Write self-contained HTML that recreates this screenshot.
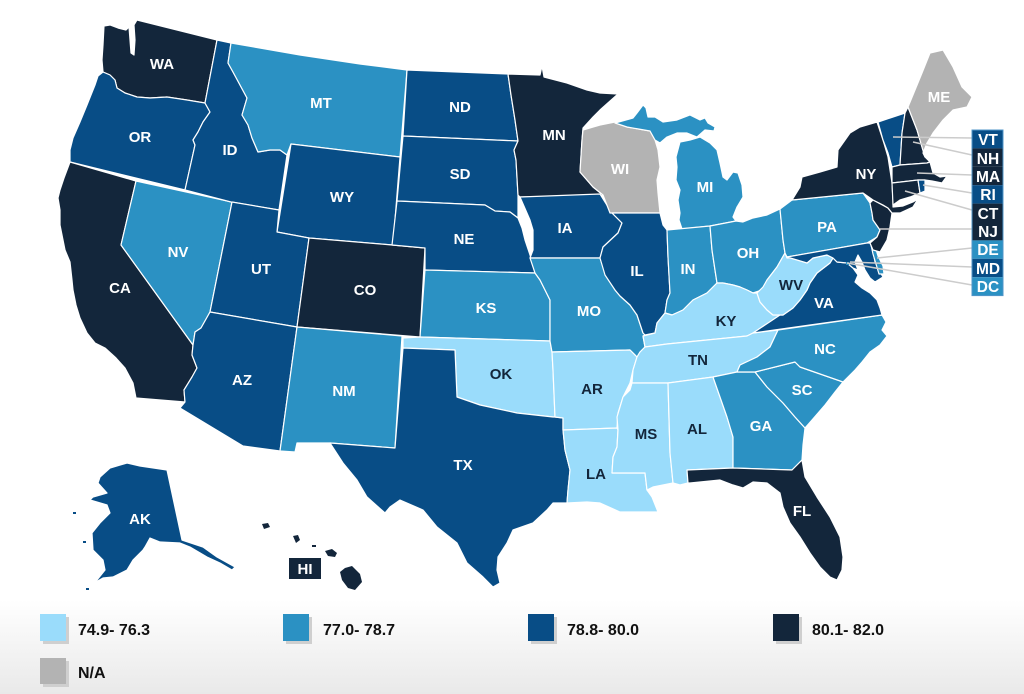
<!DOCTYPE html>
<html><head><meta charset="utf-8">
<style>
html,body{margin:0;padding:0;}
body{width:1024px;height:694px;overflow:hidden;background:linear-gradient(to bottom,#ffffff 0px,#ffffff 600px,#e9e9e9 694px);font-family:"Liberation Sans",Arial,sans-serif;}
svg{position:absolute;left:0;top:0;}
.s{stroke:#fff;stroke-width:1.2;stroke-linejoin:round;}
.L{fill:#9adcfb}.M{fill:#2b91c3}.D{fill:#084d86}.N{fill:#13263b}.G{fill:#b3b3b3}
.t{font-family:"Liberation Sans",Arial,sans-serif;font-weight:bold;font-size:15px;fill:#fff;text-anchor:middle;}
.tn{fill:#13263b;}
.lg{font-family:"Liberation Sans",Arial,sans-serif;font-weight:bold;font-size:16px;fill:#111;}
.cl{stroke:#cccccc;stroke-width:1.5;fill:none;}
.bt{font-family:"Liberation Sans",Arial,sans-serif;font-weight:bold;font-size:15.5px;fill:#fff;text-anchor:middle;}
</style></head>
<body>
<svg width="1024" height="694" viewBox="0 0 1024 694" xmlns="http://www.w3.org/2000/svg">
<g class="s">
<!-- WA -->
<path class="N" d="M104,26 L110,25 L118,28 L126,30 L129,27 L130,40 L131,53 L134,55 L135,40 L134,25 L137,20 L217,40 L205,103 L187,100 L167,97 L150,98 L137,97 L125,93 L117,88 L115,80 L110,75 L103,72 L102,60 L103,45 Z"/>
<!-- OR -->
<path class="D" d="M103,72 L110,75 L115,80 L117,88 L125,93 L137,97 L150,98 L167,97 L187,100 L205,103 L210,112 L203,122 L198,132 L193,140 L195,145 L185,190 L70,162 L70,150 L73,138 L80,122 L87,105 L95,85 L98,76 Z"/>
<!-- CA -->
<path class="N" d="M70,162 L136,181 L121,245 L193,345 L192,355 L197,368 L192,377 L184,390 L185,402 L136,398 L133,383 L125,368 L116,358 L105,348 L95,343 L87,333 L80,318 L76,305 L73,290 L72,280 L70,262 L65,250 L62,235 L60,225 L60,210 L58,198 L60,190 L64,178 Z"/>
<!-- NV -->
<path class="M" d="M136,181 L232,202 L210,312 L201,328 L195,332 L193,345 L121,245 Z"/>
<!-- ID -->
<path class="D" d="M217,40 L231,43 L228,63 L233,72 L240,85 L247,98 L242,115 L248,125 L252,138 L258,152 L270,150 L280,150 L287,155 L279,210 L231,202 L185,190 L195,145 L193,140 L198,132 L203,122 L210,112 L205,103 Z"/>
<!-- MT -->
<path class="M" d="M231,43 L300,55 L360,64 L407,70 L400,157 L291,144 L287,155 L280,150 L270,150 L258,152 L252,138 L248,125 L242,115 L247,98 L240,85 L233,72 L228,63 Z"/>
<!-- WY -->
<path class="D" d="M291,144 L400,157 L393,245 L309,238 L277,232 Z"/>
<!-- UT -->
<path class="D" d="M232,202 L279,210 L277,232 L309,238 L297,327 L210,312 Z"/>
<!-- CO -->
<path class="N" d="M309,238 L392,245 L425,248 L420,337 L297,327 Z"/>
<!-- AZ -->
<path class="D" d="M210,312 L297,327 L280,451 L243,446 L180,408 L185,402 L184,390 L192,377 L197,368 L192,355 L193,345 L195,332 L201,328 Z"/>
<!-- NM -->
<path class="M" d="M297,327 L402,336 L395,448 L330,443 L297,443 L295,452 L280,451 Z"/>
<!-- ND -->
<path class="D" d="M407,70 L508,74 L511,95 L515,120 L518,141 L403,136 Z"/>
<!-- SD -->
<path class="D" d="M403,136 L518,141 L514,150 L516,160 L518,195 L518,218 L510,212 L495,211 L485,205 L397,201 Z"/>
<!-- NE -->
<path class="D" d="M397,201 L485,205 L495,211 L510,212 L518,218 L522,228 L525,240 L530,255 L533,265 L535,273 L425,270 L425,248 L392,245 Z"/>
<!-- KS -->
<path class="M" d="M425,270 L535,273 L540,280 L545,290 L550,300 L550,341 L420,337 Z"/>
<!-- OK -->
<path class="L" d="M403,338 L420,337 L550,341 L552,352 L553,370 L555,417 L553,417 L517,413 L480,405 L457,397 L455,350 L403,348 Z"/>
<!-- TX -->
<path class="D" d="M403,348 L455,350 L457,397 L480,405 L517,413 L553,417 L555,417 L563,418 L563,430 L565,450 L570,470 L568,490 L567,503 L553,503 L547,510 L533,523 L513,530 L507,543 L498,557 L497,570 L500,583 L493,587 L483,577 L467,563 L457,543 L437,527 L423,510 L400,500 L390,507 L385,513 L367,497 L357,480 L343,463 L330,443 L395,448 Z"/>
<!-- MN -->
<path class="N" d="M508,74 L540,75 L542,66 L544,77 L567,83 L587,90 L600,93 L618,94 L600,110 L593,117 L583,128 L582,140 L580,172 L593,187 L603,195 L600,196 L520,197 L518,195 L516,160 L514,150 L518,141 L515,120 L511,95 Z"/>
<!-- IA -->
<path class="D" d="M520,197 L600,194 L605,202 L612,213 L622,223 L618,233 L603,247 L600,258 L530,258 L533,250 L533,230 L530,220 Z"/>
<!-- MO -->
<path class="M" d="M530,258 L600,258 L605,273 L615,290 L620,296 L630,305 L637,315 L643,333 L645,335 L643,336 L645,347 L640,352 L637,357 L630,350 L552,352 L550,341 L550,300 L545,290 L540,280 L535,273 Z"/>
<!-- AR -->
<path class="L" d="M552,352 L630,350 L637,357 L633,370 L630,383 L623,397 L618,413 L617,428 L563,430 L563,418 L555,417 L553,370 Z"/>
<!-- LA -->
<path class="L" d="M563,430 L617,428 L618,430 L617,447 L613,457 L612,473 L645,473 L647,490 L652,497 L658,512 L640,512 L620,512 L600,503 L587,502 L567,503 L568,490 L570,470 L565,450 Z"/>
<!-- WI -->
<path class="G" d="M583,130 L600,125 L615,122 L627,127 L650,131 L655,140 L658,150 L660,167 L657,180 L658,193 L660,213 L610,213 L603,195 L593,187 L580,172 L582,140 Z"/>
<!-- MI UP -->
<path class="M" d="M615,123 L633,118 L637,113 L643,105 L646,108 L648,117 L655,117 L663,122 L677,120 L690,115 L694,117 L700,120 L705,118 L708,123 L715,127 L714,131 L705,130 L697,137 L687,133 L677,133 L667,137 L660,143 L655,140 L650,131 L627,127 Z"/>
<!-- MI LP -->
<path class="M" d="M680,142 L690,140 L700,137 L710,143 L717,150 L720,163 L723,177 L727,180 L733,172 L738,173 L742,185 L743,197 L737,207 L733,217 L736,221 L710,226 L682,229 L679,220 L680,213 L678,200 L680,190 L676,180 L677,167 L676,157 Z"/>
<!-- IL -->
<path class="D" d="M612,213 L660,213 L663,225 L667,230 L668,257 L670,293 L667,300 L665,313 L657,323 L655,333 L645,335 L643,333 L637,315 L630,305 L620,296 L615,290 L605,275 L600,258 L603,247 L618,233 L622,223 Z"/>
<!-- IN -->
<path class="M" d="M667,230 L710,226 L712,250 L715,270 L717,283 L707,293 L693,300 L683,310 L672,315 L665,313 L667,300 L670,293 L668,257 Z"/>
<!-- OH -->
<path class="M" d="M710,226 L736,221 L743,222 L753,218 L767,215 L780,209 L783,240 L785,253 L777,267 L767,280 L762,290 L753,293 L747,290 L740,287 L733,285 L723,283 L717,283 L715,270 L712,250 Z"/>
<!-- KY -->
<path class="L" d="M645,347 L643,336 L655,333 L657,323 L665,313 L672,315 L683,310 L693,300 L707,293 L717,283 L723,283 L733,285 L740,287 L747,290 L753,293 L757,293 L760,302 L767,310 L773,315 L783,315 L765,325 L753,333 L747,336 L667,344 Z"/>
<!-- TN -->
<path class="L" d="M645,347 L667,344 L747,336 L753,333 L778,330 L770,347 L757,357 L740,365 L737,372 L713,377 L668,383 L632,383 L633,370 L637,357 L640,352 Z"/>
<!-- MS -->
<path class="L" d="M632,383 L668,383 L670,453 L673,483 L653,487 L647,490 L645,473 L612,473 L613,457 L617,447 L618,430 L617,417 L623,397 L630,390 Z"/>
<!-- AL -->
<path class="L" d="M668,383 L713,377 L727,417 L733,437 L733,450 L733,468 L687,470 L688,483 L680,485 L673,483 L670,453 Z"/>
<!-- GA -->
<path class="M" d="M713,377 L737,372 L755,372 L767,387 L783,403 L795,417 L805,428 L803,445 L802,460 L792,470 L733,468 L733,450 L733,437 L727,417 Z"/>
<!-- FL -->
<path class="N" d="M687,470 L733,468 L792,470 L802,460 L805,477 L817,497 L830,517 L840,537 L843,557 L842,570 L837,580 L830,577 L820,567 L810,553 L800,537 L790,523 L783,507 L780,493 L767,483 L753,482 L743,488 L733,485 L720,480 L700,482 L690,483 L688,483 Z"/>
<!-- SC -->
<path class="M" d="M755,372 L795,362 L800,367 L843,382 L835,392 L825,405 L812,420 L805,428 L795,417 L783,403 L767,387 Z"/>
<!-- NC -->
<path class="M" d="M778,330 L882,315 L886,322 L882,330 L887,336 L880,345 L870,352 L862,362 L855,370 L843,382 L800,367 L795,362 L755,372 L737,372 L740,365 L757,357 L770,347 Z"/>
<!-- VA -->
<path class="D" d="M753,333 L765,325 L780,315 L783,315 L793,308 L800,300 L807,290 L810,283 L817,273 L830,263 L833,258 L837,262 L847,263 L853,268 L858,275 L855,282 L862,288 L870,293 L877,300 L880,308 L882,315 L810,325 Z"/>
<!-- WV -->
<path class="L" d="M787,258 L805,257 L807,263 L813,258 L827,255 L833,258 L830,263 L817,273 L810,283 L807,290 L800,300 L793,308 L783,315 L773,315 L767,310 L760,302 L757,293 L763,287 L767,280 L777,267 L785,253 Z"/>
<!-- PA -->
<path class="M" d="M780,209 L792,200 L863,193 L870,203 L872,213 L873,220 L880,230 L877,237 L867,243 L787,257 L785,253 L783,240 Z"/>
<!-- MD -->
<path class="D" d="M787,257 L867,243 L870,243 L873,250 L875,262 L880,272 L883,277 L875,282 L870,278 L865,270 L862,262 L858,255 L855,262 L858,270 L853,268 L847,263 L837,262 L833,258 L827,255 L813,258 L807,263 Z"/>
<!-- DE -->
<path class="M" d="M871,245 L875,246 L878,256 L883,266 L884,274 L879,274 L876,264 L873,254 Z"/>
<!-- NJ -->
<path class="N" d="M873,200 L888,208 L892,213 L890,227 L887,240 L880,252 L873,250 L870,243 L877,237 L880,230 L873,220 L872,213 L870,203 Z"/>
<!-- NY -->
<path class="N" d="M792,200 L800,187 L802,177 L820,172 L837,167 L838,150 L850,133 L860,127 L877,122 L883,140 L888,157 L890,170 L892,183 L893,200 L893,207 L903,206 L913,202 L918,199 L913,207 L900,213 L892,213 L888,208 L883,205 L873,200 L863,193 Z"/>
<!-- VT -->
<path class="D" d="M878,122 L905,113 L902,133 L900,165 L892,167 L888,153 L883,140 Z"/>
<!-- NH -->
<path class="N" d="M905,113 L908,107 L917,130 L922,147 L925,157 L930,162 L927,163 L900,165 L902,133 Z"/>
<!-- ME -->
<path class="G" d="M908,107 L922,73 L930,53 L943,50 L953,67 L962,87 L972,97 L967,107 L953,110 L943,120 L933,133 L927,143 L923,153 L925,157 L922,147 L917,130 Z"/>
<!-- MA -->
<path class="N" d="M892,167 L900,165 L927,163 L930,162 L933,173 L940,177 L947,176 L942,183 L932,181 L925,180 L918,180 L892,183 Z"/>
<!-- CT -->
<path class="N" d="M892,183 L918,180 L920,193 L910,197 L900,200 L893,205 Z"/>
<!-- RI -->
<path class="D" d="M918,180 L925,180 L925,191 L920,193 Z"/>
<!-- AK -->
<path class="D" d="M100,477 L110,468 L120,465 L127,463 L140,466 L167,470 L182,540 L188,542 L203,547 L217,557 L235,567 L232,570 L220,563 L207,557 L190,547 L180,543 L160,542 L150,538 L145,547 L143,550 L133,560 L127,570 L113,577 L103,578 L87,587 L97,580 L105,570 L103,560 L93,550 L92,533 L100,523 L110,513 L107,505 L90,500 L93,497 L107,493 L98,483 Z"/>
</g>
<!-- DC -->
<rect x="846" y="262" width="3" height="3" class="M"/>
<!-- Aleutian bits -->
<g class="D">
<rect x="73" y="512" width="3" height="2"/>
<rect x="83" y="541" width="3" height="2"/>
<rect x="86" y="588" width="3" height="2"/>
</g>
<!-- HI -->
<g class="N">
<path d="M345,568 L352,566 L360,574 L362,582 L355,590 L348,588 L342,580 L340,572 Z"/>
<path d="M325,551 L332,549 L337,553 L335,557 L328,556 Z"/>
<path d="M293,536 L298,535 L300,540 L296,543 Z"/>
<path d="M262,524 L268,523 L270,527 L264,529 Z"/>
<rect x="312" y="545" width="4" height="2"/>
<rect x="289" y="558" width="32" height="21"/>
</g>

<!-- labels -->
<g class="t">
<text x="162" y="69">WA</text>
<text x="321" y="108">MT</text>
<text x="460" y="112">ND</text>
<text x="140" y="142">OR</text>
<text x="230" y="155">ID</text>
<text x="460" y="179">SD</text>
<text x="342" y="202">WY</text>
<text x="464" y="244">NE</text>
<text x="178" y="257">NV</text>
<text x="261" y="274">UT</text>
<text x="365" y="295">CO</text>
<text x="120" y="293">CA</text>
<text x="486" y="313">KS</text>
<text x="939" y="102">ME</text>
<text x="554" y="140">MN</text>
<text x="620" y="174">WI</text>
<text x="705" y="192">MI</text>
<text x="866" y="179">NY</text>
<text x="565" y="233">IA</text>
<text x="827" y="232">PA</text>
<text x="748" y="258">OH</text>
<text x="637" y="276">IL</text>
<text x="688" y="274">IN</text>
<text x="589" y="316">MO</text>
<text x="824" y="308">VA</text>
<text x="825" y="354">NC</text>
<text x="802" y="395">SC</text>
<text x="761" y="431">GA</text>
<text x="463" y="470">TX</text>
<text x="802" y="516">FL</text>
<text x="242" y="385">AZ</text>
<text x="344" y="396">NM</text>
<text x="140" y="524">AK</text>
<text x="305" y="574">HI</text>
<text class="tn" x="791" y="290">WV</text>
<text class="tn" x="726" y="326">KY</text>
<text class="tn" x="501" y="379">OK</text>
<text class="tn" x="592" y="394">AR</text>
<text class="tn" x="698" y="365">TN</text>
<text class="tn" x="646" y="439">MS</text>
<text class="tn" x="697" y="434">AL</text>
<text class="tn" x="596" y="479">LA</text>
</g>

<!-- callout lines -->
<g class="cl">
<line x1="893" y1="137" x2="972" y2="138"/>
<line x1="913" y1="142" x2="972" y2="155"/>
<line x1="917" y1="173" x2="972" y2="175"/>
<line x1="923" y1="185" x2="972" y2="193"/>
<line x1="905" y1="191" x2="972" y2="210"/>
<line x1="880" y1="229" x2="972" y2="229"/>
<line x1="877" y1="258" x2="972" y2="248"/>
<line x1="850" y1="262" x2="972" y2="267"/>
<line x1="847" y1="263" x2="972" y2="285"/>
</g>
<!-- callout boxes -->
<g>
<rect x="972" y="130" width="31" height="18.4" class="D"/>
<rect x="972" y="148.4" width="31" height="18.4" class="N"/>
<rect x="972" y="166.8" width="31" height="18.4" class="N"/>
<rect x="972" y="185.2" width="31" height="18.4" class="D"/>
<rect x="972" y="203.6" width="31" height="18.4" class="N"/>
<rect x="972" y="222" width="31" height="18.4" class="N"/>
<rect x="972" y="240.4" width="31" height="18.4" class="M"/>
<rect x="972" y="258.8" width="31" height="18.4" class="D"/>
<rect x="972" y="277.2" width="31" height="18.4" class="M"/>
<rect x="972" y="130" width="31" height="165.6" fill="none" stroke="#4f95c8" stroke-width="1"/>
</g>
<g class="bt">
<text x="988" y="145">VT</text>
<text x="988" y="164">NH</text>
<text x="988" y="182">MA</text>
<text x="988" y="200">RI</text>
<text x="988" y="219">CT</text>
<text x="988" y="237">NJ</text>
<text x="988" y="255">DE</text>
<text x="988" y="274">MD</text>
<text x="988" y="292">DC</text>
</g>

<!-- legend -->
<g>
<rect x="43" y="617" width="26" height="27" fill="#cfcfcf"/>
<rect x="40" y="614" width="26" height="27" class="L"/>
<text class="lg" x="78" y="635">74.9- 76.3</text>
<rect x="286" y="617" width="26" height="27" fill="#cfcfcf"/>
<rect x="283" y="614" width="26" height="27" class="M"/>
<text class="lg" x="323" y="635">77.0- 78.7</text>
<rect x="531" y="617" width="26" height="27" fill="#cfcfcf"/>
<rect x="528" y="614" width="26" height="27" class="D"/>
<text class="lg" x="567" y="635">78.8- 80.0</text>
<rect x="776" y="617" width="26" height="27" fill="#cfcfcf"/>
<rect x="773" y="614" width="26" height="27" class="N"/>
<text class="lg" x="812" y="635">80.1- 82.0</text>
<rect x="43" y="661" width="26" height="26" fill="#cfcfcf"/>
<rect x="40" y="658" width="26" height="26" class="G"/>
<text class="lg" x="78" y="678">N/A</text>
</g>
</svg>
</body></html>
